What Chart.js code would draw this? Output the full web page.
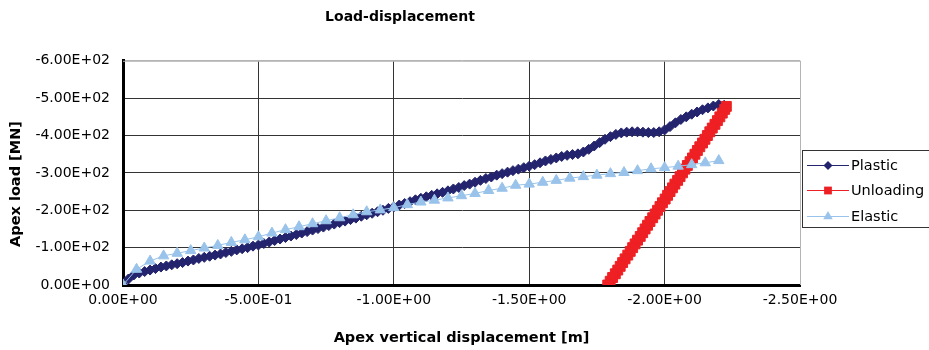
<!DOCTYPE html>
<html>
<head>
<meta charset="utf-8">
<script src="https://cdn.jsdelivr.net/npm/chart.js@4/dist/chart.umd.min.js"></script>
<style>
  body { margin: 0; background: #fff; }
  #wrap { width: 929px; height: 350px; position: relative; }
</style>
</head>
<body>
<div id="wrap"><canvas id="myChart"></canvas></div>
<script>
// data (displacement in m, load in MN)
const plasticDisp = [0, -0.02, -0.04, -0.06, -0.08, -0.10, -0.12, -0.14, -0.16, -0.18,
  -0.20, -0.22, -0.24, -0.26, -0.28, -0.30, -0.32, -0.34, -0.36, -0.38,
  -0.40, -0.42, -0.44, -0.46, -0.48, -0.50, -0.52, -0.54, -0.56, -0.58,
  -0.60, -0.62, -0.64, -0.66, -0.68, -0.70, -0.72, -0.74, -0.76, -0.78,
  -0.80, -0.82, -0.84, -0.86, -0.88, -0.90, -0.92, -0.94, -0.96, -0.98,
  -1.00, -1.02, -1.04, -1.06, -1.08, -1.10, -1.12, -1.14, -1.16, -1.18,
  -1.20, -1.22, -1.24, -1.26, -1.28, -1.30, -1.32, -1.34, -1.36, -1.38,
  -1.40, -1.42, -1.44, -1.46, -1.48, -1.50, -1.52, -1.54, -1.56, -1.58,
  -1.60, -1.62, -1.64, -1.66, -1.68, -1.70, -1.72, -1.74, -1.76, -1.78,
  -1.80, -1.82, -1.84, -1.86, -1.88, -1.90, -1.92, -1.94, -1.96, -1.98,
  -2.00, -2.02, -2.04, -2.06, -2.08, -2.10, -2.12, -2.14, -2.16, -2.18,
  -2.20, -2.22];
const plasticLoad = [0, -16, -27, -32, -36, -40, -44, -48, -51, -54,
  -57, -60, -64, -67, -71, -74, -77, -80, -83, -87,
  -90, -94, -97, -100, -104, -107, -111, -115, -119, -123,
  -127, -131, -135, -139, -143, -147, -151, -155, -159, -163,
  -167, -171, -175, -179, -184, -188, -192, -196, -200, -205,
  -209, -214, -218, -223, -228, -232, -236, -240, -244, -248,
  -252, -257, -261, -266, -270, -275, -280, -285, -289, -294,
  -298, -302, -306, -310, -314, -318, -322, -327, -332, -336,
  -340, -344, -347, -349, -351, -356, -363, -372, -381, -390,
  -397, -403, -407, -409, -410, -410, -409, -408, -408, -410,
  -415, -424, -434, -443, -450, -457, -463, -469, -474, -479,
  -483, -481];

const unloadDisp = [-2.228, -2.222, -2.213, -2.204, -2.195, -2.186, -2.176, -2.167, -2.158, -2.149,
  -2.140, -2.130, -2.121, -2.112, -2.103, -2.094, -2.084, -2.075, -2.066, -2.057,
  -2.048, -2.038, -2.029, -2.020, -2.011, -2.002, -1.992, -1.983, -1.974, -1.965,
  -1.956, -1.946, -1.937, -1.928, -1.919, -1.910, -1.900, -1.891, -1.882, -1.873,
  -1.864, -1.854, -1.845, -1.836, -1.827, -1.818, -1.808, -1.799, -1.790];
const unloadLoad = [-478, -470, -460, -450, -440, -430, -420, -410, -400, -390,
  -380, -370, -360, -350, -340, -330, -320, -310, -300, -290,
  -280, -270, -260, -250, -240, -230, -220, -210, -200, -190,
  -180, -170, -160, -150, -140, -130, -120, -110, -100, -90,
  -80, -70, -60, -50, -40, -30, -20, -10, 0];

const elasticDisp = [0, -0.05, -0.10, -0.15, -0.20, -0.25, -0.30, -0.35, -0.40, -0.45,
  -0.50, -0.55, -0.60, -0.65, -0.70, -0.75, -0.80, -0.85, -0.90, -0.95,
  -1.00, -1.05, -1.10, -1.15, -1.20, -1.25, -1.30, -1.35, -1.40, -1.45,
  -1.50, -1.55, -1.60, -1.65, -1.70, -1.75, -1.80, -1.85, -1.90, -1.95,
  -2.00, -2.05, -2.10, -2.15, -2.20];
const elasticLoad = [0, -42, -64, -78, -85, -92, -99, -106, -114, -121,
  -129, -139, -148, -156, -164, -172, -180, -188, -196, -201,
  -207, -215, -222, -227, -233, -239, -245, -253, -259, -267,
  -270, -275, -280, -286, -290, -294, -298, -301, -306, -311,
  -314, -318, -322, -327, -333];

const chartTitle = 'Load-displacement';
const xTitle = 'Apex vertical displacement [m]';
const yTitle = 'Apex load [MN]';

const pairs = (xs, ys) => xs.map((x, i) => ({x: x, y: ys[i]}));

// Excel style number: 0.00E+00
const sci = v => {
  const [m, e] = Number(v).toExponential(2).split('e');
  const n = parseInt(e);
  return m + 'E' + (n < 0 ? '-' : '+') + String(Math.abs(n)).padStart(2, '0');
};

const FONT = "'DejaVu Sans', sans-serif";

// radius = chart marker, legR = legend marker
const seriesStyle = [
  {label: 'Plastic', color: '#24246e', style: 'rectRot', radius: 5, legR: 4.5},
  {label: 'Unloading', color: '#ee2024', style: 'rect', radius: 7, legR: 5.5},
  {label: 'Elastic', color: '#99c3ea', style: 'triangle', radius: 6, legR: 5.5}
];

const drawMarker = (ctx, style, x, y, r, color) => {
  ctx.fillStyle = color;
  ctx.beginPath();
  if (style === 'rectRot') {
    ctx.moveTo(x, y - r); ctx.lineTo(x + r, y); ctx.lineTo(x, y + r); ctx.lineTo(x - r, y);
  } else if (style === 'rect') {
    const s = r * Math.SQRT1_2;
    ctx.rect(x - s, y - s, 2 * s, 2 * s);
  } else {
    const w = r * Math.sqrt(3) / 2;
    ctx.moveTo(x, y - r); ctx.lineTo(x + w, y + r / 2); ctx.lineTo(x - w, y + r / 2);
  }
  ctx.closePath();
  ctx.fill();
};

// legend box, y axis title and light frame
const extras = {
  id: 'extras',
  afterDraw(chart) {
    const ctx = chart.ctx;
    const area = chart.chartArea;
    ctx.save();
    // light top + right frame
    ctx.strokeStyle = '#b4b4b4';
    ctx.lineWidth = 1;
    ctx.beginPath();
    ctx.moveTo(area.left, area.top + 0.5);
    ctx.lineTo(area.right + 0.5, area.top + 0.5);
    ctx.lineTo(area.right + 0.5, area.bottom);
    ctx.stroke();

    // legend
    ctx.strokeStyle = '#333';
    ctx.strokeRect(802.5, 150.5, 140, 77);
    const rows = [165, 190, 216];
    ctx.font = '14.5px ' + FONT;
    ctx.textBaseline = 'middle';
    ctx.textAlign = 'left';
    seriesStyle.forEach((s, i) => {
      const y = rows[i];
      ctx.strokeStyle = s.color;
      ctx.lineWidth = 1;
      ctx.beginPath();
      ctx.moveTo(807, y + 0.5);
      ctx.lineTo(849, y + 0.5);
      ctx.stroke();
      drawMarker(ctx, s.style, 828, y + 0.5, s.legR, s.color);
      ctx.fillStyle = '#000';
      ctx.fillText(s.label, 851, y + 1);
    });

    // y axis title
    ctx.translate(16, 184);
    ctx.rotate(-Math.PI / 2);
    ctx.font = 'bold 14.5px ' + FONT;
    ctx.textAlign = 'center';
    ctx.fillStyle = '#000';
    ctx.fillText(yTitle, 0, 0);
    ctx.restore();
  }
};

const makeSet = (s, data, order) => ({
  label: s.label,
  data: data,
  borderColor: s.color,
  backgroundColor: s.color,
  borderWidth: 1,
  pointStyle: s.style,
  pointRadius: s.radius,
  pointBorderWidth: 1,
  pointHoverRadius: s.radius,
  showLine: true,
  order: order
});

const data = {
  datasets: [
    makeSet(seriesStyle[0], pairs(plasticDisp, plasticLoad), 2),
    makeSet(seriesStyle[1], pairs(unloadDisp, unloadLoad), 1),
    makeSet(seriesStyle[2], pairs(elasticDisp, elasticLoad), 0)
  ]
};

const config = {
  type: 'scatter',
  data: data,
  plugins: [extras],
  options: {
    responsive: true,
    maintainAspectRatio: false,
    animation: false,
    layout: { padding: { left: 0, right: 129, top: 0, bottom: 0 } },
    plugins: {
      legend: { display: false },
      tooltip: { enabled: false },
      title: {
        display: true,
        text: chartTitle,
        color: '#000',
        font: { family: FONT, size: 14, weight: 'bold' },
        padding: { top: 9, bottom: 35 }
      }
    },
    scales: {
      x: {
        type: 'linear',
        reverse: true,
        min: -2.5,
        max: 0,
        afterFit: s => { s.height = 65; },
        border: { color: '#000', width: 3 },
        grid: {
          drawTicks: false,
          lineWidth: 1,
          color: c => (c.tick && c.tick.value === -2.5) ? '#b4b4b4' : '#333'
        },
        ticks: {
          stepSize: 0.5,
          padding: 7,
          color: '#000',
          font: { family: FONT, size: 14 },
          callback: v => sci(v)
        },
        title: {
          display: true,
          text: xTitle,
          color: '#000',
          font: { family: FONT, size: 14.5, weight: 'bold' },
          padding: { top: 0, bottom: 3 }
        }
      },
      y: {
        type: 'linear',
        reverse: true,
        min: -600,
        max: 0,
        afterFit: s => { s.width = 123; },
        border: { color: '#000', width: 3 },
        grid: {
          drawTicks: false,
          lineWidth: 1,
          color: c => (c.tick && c.tick.value === -600) ? '#b4b4b4' : '#333'
        },
        ticks: {
          stepSize: 100,
          padding: 13,
          color: '#000',
          font: { family: FONT, size: 14 },
          callback: v => sci(v)
        }
      }
    }
  }
};

new Chart(document.getElementById('myChart'), config);
</script>
</body>
</html>
